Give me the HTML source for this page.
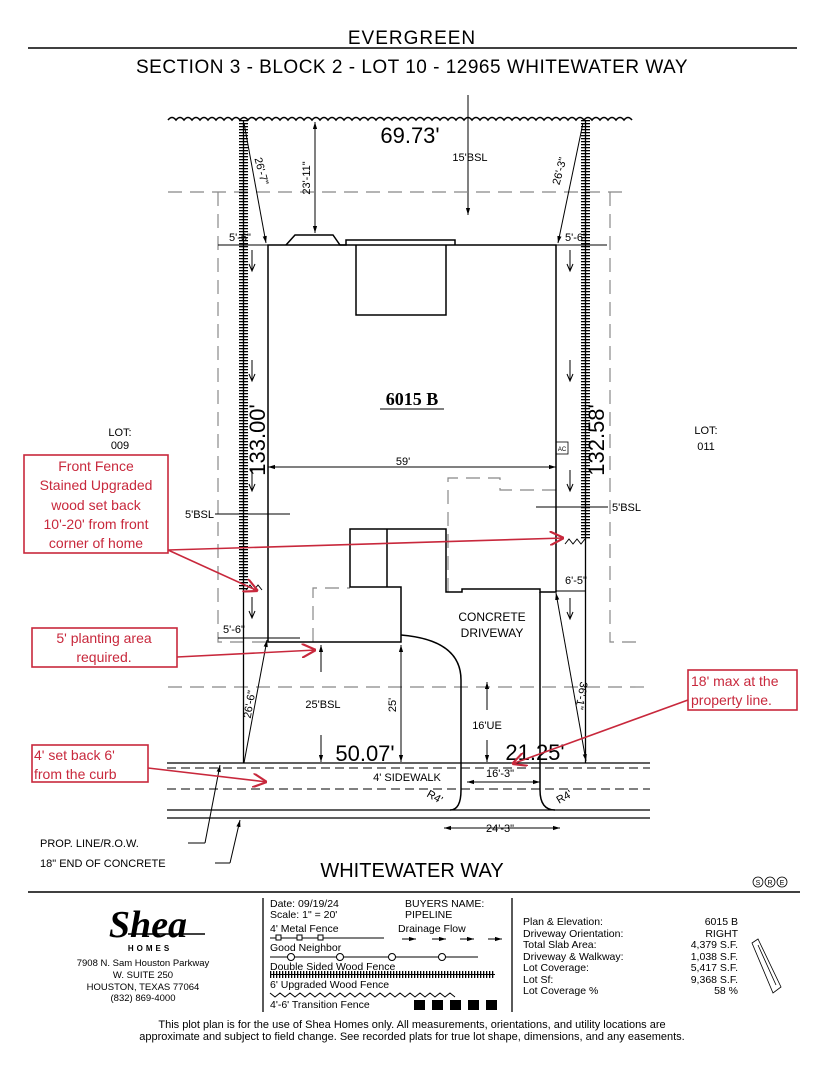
<!DOCTYPE html>
<html><head><meta charset="utf-8"><style>
body{margin:0;background:#fff;}
svg{display:block;font-family:"Liberation Sans",sans-serif;}
</style></head><body>
<svg width="825" height="1068" viewBox="0 0 825 1068" xmlns="http://www.w3.org/2000/svg">
<defs>
<marker id="a" viewBox="0 0 10 10" refX="10" refY="5" markerWidth="7" markerHeight="7" orient="auto-start-reverse"><path d="M0,2 L10,5 L0,8 z" fill="#000"/></marker>
<marker id="r" viewBox="0 0 10 10" refX="10" refY="5" markerWidth="9" markerHeight="9" orient="auto"><path d="M0,0 L10,5 L0,10" fill="none" stroke="#c8283c" stroke-width="1.5"/></marker>
<pattern id="h" width="9" height="3" patternUnits="userSpaceOnUse"><rect width="9" height="1.3" fill="#000"/></pattern>
<pattern id="hv" width="3" height="9" patternUnits="userSpaceOnUse"><rect width="1.3" height="9" fill="#000"/></pattern>
</defs>
<!-- header -->
<text x="412" y="44" font-size="19" text-anchor="middle" letter-spacing="1">EVERGREEN</text>
<line x1="28" y1="48" x2="797" y2="48" stroke="#000" stroke-width="1.5"/>
<text x="412" y="73" font-size="19" text-anchor="middle" letter-spacing="0.5">SECTION 3 - BLOCK 2 - LOT 10 - 12965 WHITEWATER WAY</text>

<!-- wavy rear fence -->
<path d="M168,120 q4,-5 8,0 q4,-5 8,0 q4,-5 8,0 q4,-5 8,0 q4,-5 8,0 q4,-5 8,0 q4,-5 8,0 q4,-5 8,0 q4,-5 8,0 q4,-5 8,0 q4,-5 8,0 q4,-5 8,0 q4,-5 8,0 q4,-5 8,0 q4,-5 8,0 q4,-5 8,0 q4,-5 8,0 q4,-5 8,0 q4,-5 8,0 q4,-5 8,0 q4,-5 8,0 q4,-5 8,0 q4,-5 8,0 q4,-5 8,0 q4,-5 8,0 q4,-5 8,0 q4,-5 8,0 q4,-5 8,0 q4,-5 8,0 q4,-5 8,0 q4,-5 8,0 q4,-5 8,0 q4,-5 8,0 q4,-5 8,0 q4,-5 8,0 q4,-5 8,0 q4,-5 8,0 q4,-5 8,0 q4,-5 8,0 q4,-5 8,0 q4,-5 8,0 q4,-5 8,0 q4,-5 8,0 q4,-5 8,0 q4,-5 8,0 q4,-5 8,0 q4,-5 8,0 q4,-5 8,0 q4,-5 8,0 q4,-5 8,0 q4,-5 8,0 q4,-5 8,0 q4,-5 8,0 q4,-5 8,0 q4,-5 8,0 q4,-5 8,0 q4,-5 8,0 q4,-5 8,0" fill="none" stroke="#000" stroke-width="1.6"/>
<line x1="468" y1="95" x2="468" y2="215" stroke="#000" marker-end="url(#a)"/>
<text x="410" y="143" font-size="22" text-anchor="middle">69.73'</text>
<text x="470" y="161" font-size="11" text-anchor="middle">15'BSL</text>

<!-- gray dashed BSL -->
<g stroke="#888" stroke-width="1.2" fill="none" stroke-dasharray="14,8">
<path d="M168,192 H630"/>
<path d="M218,192 V642 H268"/>
<path d="M610,192 V642 H640"/>
<path d="M168,687 H650"/>
<path d="M313,642 V588 H350"/>
<path d="M448,592 V478 H500 V490 H556"/>
</g>

<!-- lot lines (hatched fences) -->
<rect x="239" y="120" width="9" height="470" fill="url(#h)"/>
<line x1="243.5" y1="120" x2="243.5" y2="763" stroke="#000" stroke-width="1.3"/>
<path d="M246,590 l4,-5 l4,5 l4,-5 l4,5" fill="none" stroke="#000"/>
<rect x="581" y="120" width="9" height="420" fill="url(#h)"/>
<line x1="585.5" y1="120" x2="585.5" y2="763" stroke="#000" stroke-width="1.3"/>
<path d="M565,544 l4,-5 l4,5 l4,-5 l4,5 l4,-5" fill="none" stroke="#000"/>

<!-- house -->
<g fill="none" stroke="#000" stroke-width="1.5">
<path d="M268,245 V642 H401 V587 H350 V529 H446 V592 H462 V589 H540 V592 H556 V245 Z"/>
<path d="M286,245 L295,235 H333 L340,245 H346 V240 H455 V245"/>
<path d="M356,245 V315 H446 V245"/>
<path d="M387,529 V587"/>
<path d="M401,635 Q461,640 461,680 V790 Q461,810 450,810"/>
<path d="M540,592 V790 Q540,810 555,810"/>
</g>
<rect x="556" y="442" width="12" height="12" fill="none" stroke="#000" stroke-width="0.8"/>
<text x="562" y="451" font-size="6" text-anchor="middle">AC</text>

<!-- sidewalk lines -->
<line x1="167" y1="763" x2="650" y2="763" stroke="#000" stroke-width="1.3"/>
<line x1="167" y1="768" x2="650" y2="768" stroke="#000" stroke-dasharray="9,5"/>
<line x1="167" y1="789" x2="650" y2="789" stroke="#000" stroke-dasharray="9,5"/>
<line x1="167" y1="810" x2="650" y2="810" stroke="#000" stroke-width="1.3"/>
<line x1="167" y1="818" x2="650" y2="818" stroke="#000" stroke-width="1.3"/>

<!-- dimension lines -->
<g stroke="#000" stroke-width="1" fill="none">
<line x1="315" y1="122" x2="315" y2="233" marker-start="url(#a)" marker-end="url(#a)"/>
<line x1="244" y1="123" x2="266" y2="243" marker-end="url(#a)"/>
<line x1="583" y1="123" x2="558" y2="243" marker-end="url(#a)"/>
<line x1="218" y1="245" x2="268" y2="245"/>
<line x1="556" y1="245" x2="607" y2="245"/>
<line x1="268" y1="467" x2="556" y2="467" marker-start="url(#a)" marker-end="url(#a)"/>
<line x1="215" y1="514" x2="290" y2="514"/>
<line x1="536" y1="507" x2="608" y2="507"/>
<line x1="556" y1="591" x2="586" y2="591"/>
<line x1="218" y1="638" x2="300" y2="638"/>
<line x1="244" y1="763" x2="267" y2="640" marker-end="url(#a)"/>
<line x1="321" y1="645" x2="321" y2="672" marker-start="url(#a)"/>
<line x1="321" y1="735" x2="321" y2="762" marker-end="url(#a)"/>
<line x1="401" y1="645" x2="401" y2="762" marker-start="url(#a)" marker-end="url(#a)"/>
<line x1="487" y1="710" x2="487" y2="682" marker-end="url(#a)"/>
<line x1="487" y1="740" x2="487" y2="762" marker-end="url(#a)"/>
<line x1="556" y1="593" x2="586" y2="761" marker-start="url(#a)" marker-end="url(#a)"/>
<line x1="467" y1="782" x2="540" y2="782" marker-start="url(#a)" marker-end="url(#a)"/>
<line x1="444" y1="828" x2="560" y2="828" marker-start="url(#a)" marker-end="url(#a)"/>
<line x1="205" y1="843" x2="220" y2="765" marker-end="url(#a)"/>
<line x1="230" y1="863" x2="240" y2="820" marker-end="url(#a)"/>
<line x1="188" y1="843" x2="205" y2="843"/>
<line x1="215" y1="863" x2="230" y2="863"/>
</g>
<!-- drainage arrows -->
<g stroke="#000" stroke-width="1" fill="none">
<path d="M252,250 v20 M249,264 l3,7 l3,-7"/><path d="M252,360 v20 M249,374 l3,7 l3,-7"/><path d="M252,470 v20 M249,484 l3,7 l3,-7"/><path d="M252,597 v20 M249,611 l3,7 l3,-7"/>
<path d="M570,250 v20 M567,264 l3,7 l3,-7"/><path d="M570,360 v20 M567,374 l3,7 l3,-7"/><path d="M570,470 v20 M567,484 l3,7 l3,-7"/><path d="M570,598 v20 M567,612 l3,7 l3,-7"/>
</g>

<!-- drawing labels -->
<g font-size="11">
<text transform="translate(310,178) rotate(-90)" text-anchor="middle">23'-11"</text>
<text transform="translate(258,172) rotate(75)" text-anchor="middle">26'-7"</text>
<text transform="translate(563,172) rotate(-75)" text-anchor="middle">26'-3"</text>
<text x="240" y="241" text-anchor="middle">5'-6"</text>
<text x="576" y="241" text-anchor="middle">5'-6"</text>
<text x="403" y="465" text-anchor="middle">59'</text>
<text x="214" y="518" text-anchor="end">5'BSL</text>
<text x="612" y="511">5'BSL</text>
<text x="576" y="584" text-anchor="middle">6'-5"</text>
<text x="234" y="633" text-anchor="middle">5'-6"</text>
<text x="492" y="621" text-anchor="middle" font-size="12">CONCRETE</text>
<text x="492" y="637" text-anchor="middle" font-size="12">DRIVEWAY</text>
<text transform="translate(253,705) rotate(-80)" text-anchor="middle">26'-6"</text>
<text x="323" y="708" text-anchor="middle">25'BSL</text>
<text transform="translate(396,705) rotate(-90)" text-anchor="middle">25'</text>
<text x="487" y="729" text-anchor="middle">16'UE</text>
<text transform="translate(578,695) rotate(100)" text-anchor="middle">36'-1"</text>
<text x="407" y="781" text-anchor="middle">4' SIDEWALK</text>
<text x="500" y="777" text-anchor="middle">16'-3"</text>
<text transform="translate(433,800) rotate(30)" text-anchor="middle">R4'</text>
<text transform="translate(566,800) rotate(-30)" text-anchor="middle">R4'</text>
<text x="500" y="832" text-anchor="middle">24'-3"</text>
<text x="120" y="436" text-anchor="middle">LOT:</text>
<text x="120" y="449" text-anchor="middle">009</text>
<text x="706" y="434" text-anchor="middle">LOT:</text>
<text x="706" y="450" text-anchor="middle">011</text>
<text x="40" y="847">PROP. LINE/R.O.W.</text>
<text x="40" y="867">18" END OF CONCRETE</text>
</g>
<text x="412" y="405" font-family="Liberation Serif,serif" font-weight="bold" font-size="18" text-anchor="middle">6015 B</text>
<line x1="380" y1="409" x2="444" y2="409" stroke="#000"/>
<text transform="translate(265,440) rotate(-90)" font-size="22" text-anchor="middle">133.00'</text>
<text transform="translate(604,440) rotate(-90)" font-size="22" text-anchor="middle">132.58'</text>
<text x="365" y="761" font-size="22" text-anchor="middle">50.07'</text>
<text x="535" y="760" font-size="22" text-anchor="middle">21.25'</text>
<text x="412" y="877" font-size="20" text-anchor="middle">WHITEWATER WAY</text>
<g fill="none" stroke="#000" stroke-width="0.8">
<circle cx="758" cy="882" r="5"/><circle cx="770" cy="882" r="5"/><circle cx="782" cy="882" r="5"/>
</g>
<g font-size="7" text-anchor="middle"><text x="758" y="885">S</text><text x="770" y="885">R</text><text x="782" y="885">E</text></g>

<!-- red callouts -->
<g fill="none" stroke="#c8283c" stroke-width="1.6">
<rect x="24" y="455" width="144" height="98"/>
<rect x="32" y="628" width="145" height="39"/>
<rect x="32" y="745" width="116" height="37"/>
<rect x="688" y="670" width="109" height="40"/>
<line x1="168" y1="550" x2="564" y2="538" marker-end="url(#r)"/>
<line x1="168" y1="550" x2="258" y2="591" marker-end="url(#r)"/>
<line x1="177" y1="657" x2="316" y2="650" marker-end="url(#r)"/>
<line x1="148" y1="768" x2="267" y2="782" marker-end="url(#r)"/>
<line x1="688" y1="700" x2="512" y2="764" marker-end="url(#r)"/>
</g>
<g fill="#c8283c" font-size="14" text-anchor="middle">
<text x="96" y="471">Front Fence</text>
<text x="96" y="490">Stained Upgraded</text>
<text x="96" y="510">wood set back</text>
<text x="96" y="529">10'-20' from front</text>
<text x="96" y="548">corner of home</text>
<text x="104" y="643">5' planting area</text>
<text x="104" y="662">required.</text>
<text x="34" y="760" text-anchor="start">4' set back 6'</text>
<text x="34" y="779" text-anchor="start">from the curb</text>
<text x="691" y="686" text-anchor="start">18' max at the</text>
<text x="691" y="705" text-anchor="start">property line.</text>
</g>

<!-- title block -->
<line x1="28" y1="892" x2="800" y2="892" stroke="#000" stroke-width="1.5"/>
<line x1="263" y1="898" x2="263" y2="1012" stroke="#000" stroke-width="1.3"/>
<line x1="512" y1="898" x2="512" y2="1012" stroke="#000" stroke-width="1.3"/>
<text x="148" y="937" font-family="Liberation Serif,serif" font-style="italic" font-weight="bold" font-size="38" text-anchor="middle">Shea</text>
<line x1="128" y1="934" x2="205" y2="934" stroke="#000" stroke-width="1.5"/>
<text x="150" y="951" font-size="8" font-weight="bold" text-anchor="middle" letter-spacing="3">HOMES</text>
<g font-size="9.5" text-anchor="middle">
<text x="143" y="966">7908 N. Sam Houston Parkway</text>
<text x="143" y="978">W. SUITE 250</text>
<text x="143" y="990">HOUSTON, TEXAS 77064</text>
<text x="143" y="1001">(832) 869-4000</text>
</g>
<g font-size="10.5">
<text x="270" y="907">Date:  09/19/24</text>
<text x="270" y="918">Scale: 1" = 20'</text>
<text x="405" y="907">BUYERS NAME:</text>
<text x="405" y="918">PIPELINE</text>
<text x="270" y="932">4' Metal Fence</text>
<text x="398" y="932">Drainage Flow</text>
<text x="270" y="951">Good Neighbor</text>
<text x="270" y="970">Double Sided Wood Fence</text>
<text x="270" y="988">6' Upgraded Wood Fence</text>
<text x="270" y="1008">4'-6' Transition Fence</text>
</g>
<g stroke="#000" fill="#fff" stroke-width="1">
<line x1="270" y1="938" x2="384" y2="938"/>
<rect x="276" y="935" width="5" height="5"/><rect x="297" y="935" width="5" height="5"/><rect x="318" y="935" width="5" height="5"/>
<line x1="270" y1="957" x2="478" y2="957"/>
<circle cx="291" cy="957" r="3.5"/><circle cx="340" cy="957" r="3.5"/><circle cx="392" cy="957" r="3.5"/><circle cx="442" cy="957" r="3.5"/>
<line x1="402" y1="939" x2="416" y2="939" marker-end="url(#a)"/><line x1="432" y1="939" x2="446" y2="939" marker-end="url(#a)"/><line x1="460" y1="939" x2="474" y2="939" marker-end="url(#a)"/><line x1="488" y1="939" x2="502" y2="939" marker-end="url(#a)"/>
</g>
<rect x="270" y="971" width="225" height="7" fill="url(#hv)"/>
<line x1="270" y1="974.5" x2="495" y2="974.5" stroke="#000"/>
<path d="M270,993 l5,4 l5,-4 l5,4 l5,-4 l5,4 l5,-4 l5,4 l5,-4 l5,4 l5,-4 l5,4 l5,-4 l5,4 l5,-4 l5,4 l5,-4 l5,4 l5,-4 l5,4 l5,-4 l5,4 l5,-4 l5,4 l5,-4 l5,4 l5,-4 l5,4 l5,-4 l5,4 l5,-4 l5,4 l5,-4 l5,4 l5,-4 l5,4 l5,-4 l5,4" fill="none" stroke="#000"/>
<g fill="#000"><rect x="414" y="1000" width="11" height="10"/><rect x="432" y="1000" width="11" height="10"/><rect x="450" y="1000" width="11" height="10"/><rect x="468" y="1000" width="11" height="10"/><rect x="486" y="1000" width="11" height="10"/></g>
<g font-size="10.5">
<text x="523" y="925">Plan &amp; Elevation:</text><text x="738" y="925" text-anchor="end">6015 B</text>
<text x="523" y="937">Driveway Orientation:</text><text x="738" y="937" text-anchor="end">RIGHT</text>
<text x="523" y="948">Total Slab Area:</text><text x="738" y="948" text-anchor="end">4,379 S.F.</text>
<text x="523" y="960">Driveway &amp; Walkway:</text><text x="738" y="960" text-anchor="end">1,038 S.F.</text>
<text x="523" y="971">Lot Coverage:</text><text x="738" y="971" text-anchor="end">5,417 S.F.</text>
<text x="523" y="983">Lot Sf:</text><text x="738" y="983" text-anchor="end">9,368 S.F.</text>
<text x="523" y="994">Lot Coverage %</text><text x="738" y="994" text-anchor="end">58 %</text>
</g>
<path d="M752,943 l6,-4 l23,48 l-8,6 z M758,945 l18,40" fill="none" stroke="#000" stroke-width="0.8"/>
<g font-size="11" text-anchor="middle">
<text x="412" y="1028">This plot plan is for the use of Shea Homes only. All measurements, orientations, and utility locations are</text>
<text x="412" y="1040">approximate and subject to field change. See recorded plats for true lot shape, dimensions, and any easements.</text>
</g>
</svg>
</body></html>
